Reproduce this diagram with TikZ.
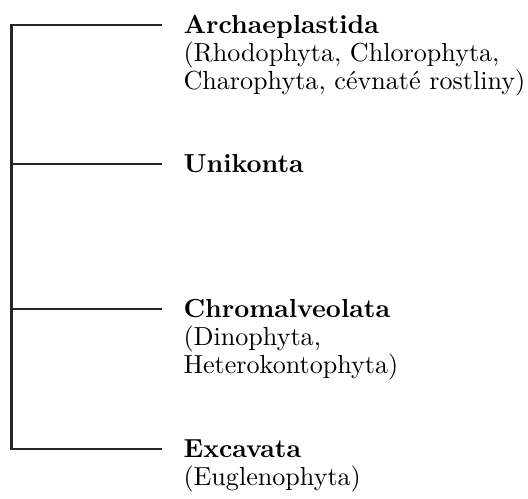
\documentclass[tikz,border=0pt]{standalone}
\usepackage{tikz}
\usetikzlibrary{calc}

\begin{document}
\begin{tikzpicture}[
    x=0.3831pt, y=-0.3831pt,
    taxon/.style={anchor=north west, inner sep=0pt, align=left,
                  font=\fontsize{10pt}{10.8pt}\selectfont},
    tree/.style={line width=1pt, draw=black!85}
]
\useasboundingbox (0,0) rectangle (528,499);

% branch ends
\coordinate (spine) at (11.5,25);
\coordinate (b1) at (162,25);
\coordinate (b2) at (162,164);
\coordinate (b3) at (162,309);
\coordinate (b4) at (162,449);

\node[taxon] (arch) at ($(b1)+(21,-10.5)$) {\textbf{Archaeplastida}\\(Rhodophyta, Chlorophyta,\\Charophyta, cévnaté rostliny)};
\node[taxon] (uni) at ($(b2)+(21,-10.5)$) {\textbf{Unikonta}};
\node[taxon] (chrom) at ($(b3)+(21,-10.5)$) {\textbf{Chromalveolata}\\(Dinophyta,\\Heterokontophyta)};
\node[taxon] (exc) at ($(b4)+(21,-9.5)$) {\textbf{Excavata}\\(Euglenophyta)};

\draw[tree] (b1) -| (b4 -| spine) -- (b4);
\draw[tree] (b2 -| spine) -- (b2);
\draw[tree] (b3 -| spine) -- (b3);
\end{tikzpicture}
\end{document}
